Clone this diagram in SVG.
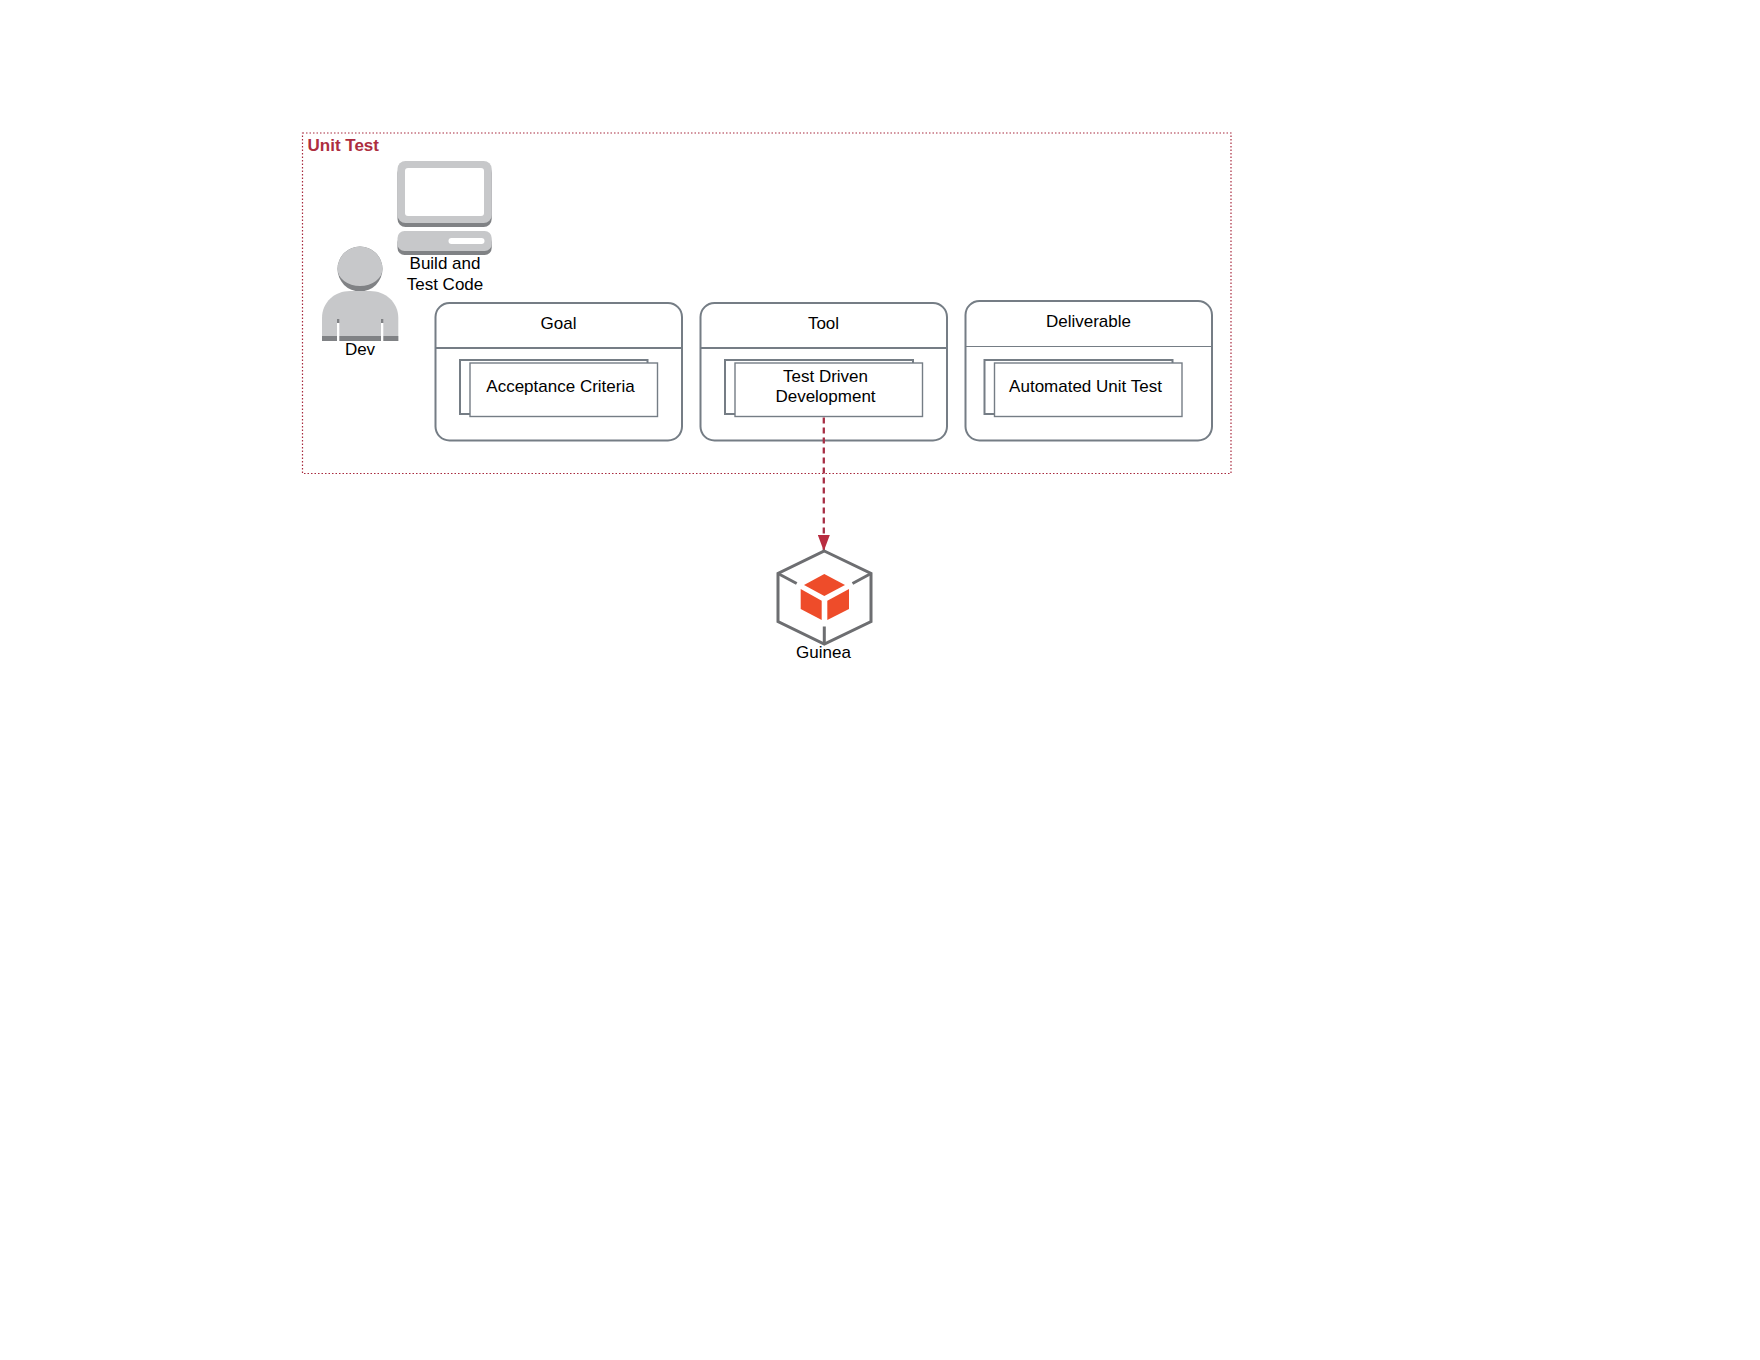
<svg xmlns="http://www.w3.org/2000/svg" width="1760" height="1360" viewBox="0 0 1760 1360">
<style>
text{font-family:"Liberation Sans",Arial,sans-serif;font-size:17px;fill:#000;text-anchor:middle}
.card{fill:#fff;stroke:#757d85;stroke-width:2}
.hdr{stroke:#757d85;stroke-width:2;fill:none}
.hdr2{stroke:#757d85;stroke-width:1.200;fill:none}
.back{fill:#fff;stroke:#757d85;stroke-width:2}
.front{fill:#fff;stroke:#757d85;stroke-width:1.400}
.lt{fill:#c7c8ca}.dk{fill:#808285}
.cube{fill:#ee4c2a}
.pk{fill:none;stroke:#6d6e71;stroke-width:3;stroke-linejoin:miter}
</style>
<defs>
<marker id="ah" markerUnits="userSpaceOnUse" markerWidth="17" markerHeight="12" refX="16" refY="6" orient="auto"><path d="M0 0L16 6L0 12Z" fill="#b92c40"/></marker>
</defs>
<rect width="1760" height="1360" fill="#fff"/>
<g id="unit-test">
<rect x="302.500" y="133" width="928.500" height="340.500" fill="none" stroke="#a82a3e" stroke-width="1.200" stroke-dasharray="1.500 2"/>
<text x="307.500" y="151" style="text-anchor:start;font-weight:bold;fill:#ad2d40">Unit Test</text>
</g>
<g id="computer">
<rect class="dk" x="397.500" y="165" width="94.200" height="62" rx="8"/>
<rect class="lt" x="397.500" y="161" width="94.200" height="62" rx="8"/>
<rect x="405" y="168" width="79" height="48" rx="3" fill="#fff"/>
<rect class="dk" x="397.500" y="235" width="94.200" height="20" rx="7"/>
<rect class="lt" x="397.500" y="231" width="94.200" height="20" rx="7"/>
<rect x="448.500" y="238" width="36" height="6" rx="3" fill="#fff"/>
<text x="445" y="269">Build and</text>
<text x="445" y="290">Test Code</text>
</g>
<g id="dev">
<circle class="dk" cx="360" cy="269" r="22.500"/>
<path class="lt" d="M337.500 269A22.500 22.500 0 0 1 382.500 269A22.500 17 0 0 1 337.500 269Z"/>
<path class="lt" d="M322 341V318C322 302 335 291 350 291H370C385 291 398.300 302 398.300 318V341Z"/>
<rect class="dk" x="322" y="336" width="76.300" height="5"/>
<rect x="337" y="323" width="2.300" height="18" fill="#fff"/>
<rect x="381" y="323" width="2.300" height="18" fill="#fff"/>
<rect class="dk" x="337" y="319" width="2.300" height="4"/>
<rect class="dk" x="381" y="319" width="2.300" height="4"/>
<text x="360" y="355">Dev</text>
</g>
<g id="goal">
<rect class="card" x="435.500" y="303" width="246.500" height="137.500" rx="14"/>
<path class="hdr" d="M435.500 348H682"/>
<text x="558.500" y="329">Goal</text>
<rect class="back" x="460" y="360" width="187.500" height="54"/>
<rect class="front" x="470" y="363" width="187.500" height="53.500"/>
<text x="560.500" y="392">Acceptance Criteria</text>
</g>
<g id="tool">
<rect class="card" x="700.500" y="303" width="246.500" height="137.500" rx="14"/>
<path class="hdr" d="M700.500 348H947"/>
<text x="823.500" y="329">Tool</text>
<rect class="back" x="725" y="360" width="188" height="54"/>
<rect class="front" x="735" y="363" width="187.500" height="53.500"/>
<text x="825.500" y="382">Test Driven</text>
<text x="825.500" y="402">Development</text>
</g>
<g id="deliverable">
<rect class="card" x="965.500" y="301" width="246.500" height="139.500" rx="14"/>
<path class="hdr2" d="M965.500 346.500H1212"/>
<text x="1088.500" y="327">Deliverable</text>
<rect class="back" x="984.500" y="360" width="188" height="54"/>
<rect class="front" x="994.500" y="363" width="187.500" height="53.500"/>
<text x="1085.500" y="392">Automated Unit Test</text>
</g>
<g id="connectors">
<path d="M823.800 417.500V551" fill="none" stroke="#a62f44" stroke-width="2.300" stroke-dasharray="6 4" marker-end="url(#ah)"/>
</g>
<g id="guinea">
<path class="pk" d="M824.300 551L871 573.500V621.500L824.300 644L778 621.500V573.500Z"/>
<path class="pk" d="M778 573.500L796.700 583.500M871 573.500L852.500 583.500M824.300 644V626.500"/>
<path class="cube" d="M824.300 574L845 585L824.300 596L804 585Z"/>
<path class="cube" d="M800.700 589L821.700 600.700V620L800.700 609Z"/>
<path class="cube" d="M849 589L827.300 600.700V620L849 609Z"/>
<text x="823.500" y="658">Guinea</text>
</g>
</svg>
